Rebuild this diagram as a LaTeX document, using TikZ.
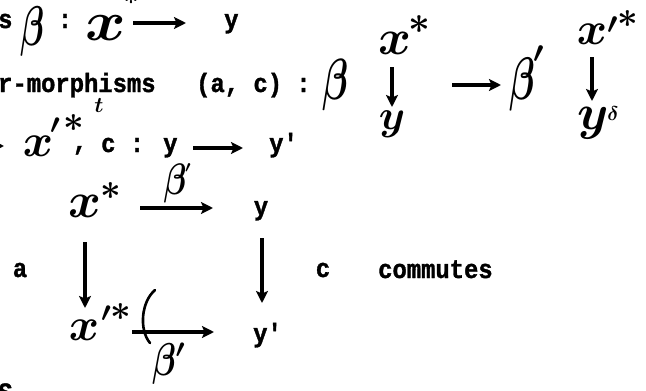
\documentclass[tikz,border=0pt]{standalone}
\usepackage{amsmath}
\usepackage{fontspec}
\DeclareFontShape{OML}{cmm}{m}{it}{<->cmmi10}{}
\DeclareFontShape{OML}{cmm}{b}{it}{<->cmmib10}{}
\DeclareFontShape{OMS}{cmsy}{m}{n}{<->cmsy10}{}
\DeclareFontShape{OMS}{cmsy}{b}{n}{<->cmbsy10}{}
\newfontfamily\tw{Liberation Mono}[FakeStretch=0.9,BoldFeatures={FakeBold=1.3}]
\newcommand\sqz[2]{\scalebox{#1}[1]{#2}}
\usetikzlibrary{arrows.meta}
\begin{document}
\begin{tikzpicture}[x=1pt,y=-1pt,
  tt/.style={font=\tw\bfseries\fontsize{26.5}{26.5}\selectfont, inner sep=0pt},
  hw/.style={font=\fontsize{#1}{#1}\selectfont\boldmath, inner sep=0pt},
  hw/.default=50,
  arr/.style={line width=3.2pt, -{Stealth[length=12pt,width=12pt,inset=2.5pt]}},
  curl/.style={line width=2.6pt, line cap=round}
]
\useasboundingbox (0,0) rectangle (646,391);
% ---------- line 1
\node[tt,anchor=base west] (s1) at (-2,28) {s};
\node[hw=56] (b1) at (33,31) {\sqz{0.62}{$\beta$}};
\node[tt,anchor=base] (c1) at (65,28) {:};
\node[hw=56] (x1) at (106,28) {\sqz{1.1}{$x$}};
\node[hw=26] (st1) at (131,-2) {$\ast$};
\coordinate (a1s) at (133,23); \coordinate (a1e) at (186,23);
\draw[arr] (a1s) -- (a1e);
\node[tt,anchor=base west] (y1) at (224,28) {y};
% ---------- line 2
\node[tt,anchor=base west] (rm) at (-2,92) {r-morphisms};
\node[hw=22] (tmark) at (99,106) {$t$};
\node[tt,anchor=base west] (ac) at (196,92) {(a, c) :};
\node[hw=58] (b2) at (336,85) {\sqz{0.65}{$\beta$}};
\node[hw=50] (x2) at (395,43) {$x$};
\node[hw=38] (st2) at (419,25) {$\ast$};
\node[hw=42] (y2) at (392,124) {$y$};
\coordinate (d1s) at (392,67); \coordinate (d1e) at (392,107);
\draw[arr] (d1s) -- (d1e);
\coordinate (a2s) at (452,85); \coordinate (a2e) at (501,85);
\draw[arr] (a2s) -- (a2e);
\node[hw=60] (b3) at (522,84) {\sqz{0.62}{$\beta$}};
\node[hw=30] (pr3) at (539,54) {$\prime$};
\node[hw=46] (x3) at (592,34) {$x$};
\node[hw=30] (pr4) at (613,25) {$\prime$};
\node[hw=36] (st3) at (628,19) {$\ast$};
\node[hw=50] (y3) at (593,123) {$y$};
\node[hw=20] (dl) at (613,114) {$\delta$};
\coordinate (d2s) at (592,57); \coordinate (d2e) at (592,101);
\draw[arr] (d2s) -- (d2e);
% ---------- line 3
\coordinate (a0s) at (-20,146); \coordinate (a0e) at (4,146);
\draw[arr] (a0s) -- (a0e);
\node[hw=46] (x4) at (38,146) {$x$};
\node[hw=28] (pr5) at (55,126) {$\prime$};
\node[hw=36] (st4) at (74,123) {$\ast$};
\node[tt,anchor=base] (cm) at (80,150) {,};
\node[tt,anchor=base west] (cy) at (101,152) {c : y};
\coordinate (a3s) at (193,148); \coordinate (a3e) at (243,148);
\draw[arr] (a3s) -- (a3e);
\node[tt,anchor=base west] (yp1) at (269,152) {y'};
% ---------- square
\node[hw=50] (TX) at (85,206) {$x$};
\node[hw=36] (st5) at (111,191) {$\ast$};
\node[hw=44] (bt) at (175,183) {\sqz{0.75}{$\beta$}};
\node[hw=16] (prt) at (188,168) {$\prime$};
\node[tt,anchor=base] (TY) at (261,215) {y};
\coordinate (tas) at (140,208); \coordinate (tae) at (213,208);
\draw[arr] (tas) -- (tae);
\coordinate (las) at (85,242); \coordinate (lae) at (85,308);
\draw[arr] (las) -- (lae);
\coordinate (ras) at (262,238); \coordinate (rae) at (262,303);
\draw[arr] (ras) -- (rae);
\node[tt,anchor=base] (la) at (20,277) {a};
\node[tt,anchor=base] (lc) at (323,277) {c};
\node[tt,anchor=base west] (com) at (378,278) {commutes};
\node[hw=46] (BX) at (84,330) {$x$};
\node[hw=28] (pr6) at (106,314) {$\prime$};
\node[hw=36] (st6) at (121,312) {$\ast$};
\coordinate (bas) at (132,332); \coordinate (bae) at (214,332);
\draw[arr] (bas) -- (bae);
\draw[curl] (155,290) .. controls (141,302) and (139,330) .. (150,343);
\node[hw=46] (bb) at (164,364) {\sqz{0.75}{$\beta$}};
\node[hw=26] (prb) at (180,350) {$\prime$};
\node[tt,anchor=base west] (BY) at (253,342) {y'};
% ---------- bottom fragment
\node[tt,anchor=base west] (S) at (-2,401) {S};
\end{tikzpicture}
\end{document}
